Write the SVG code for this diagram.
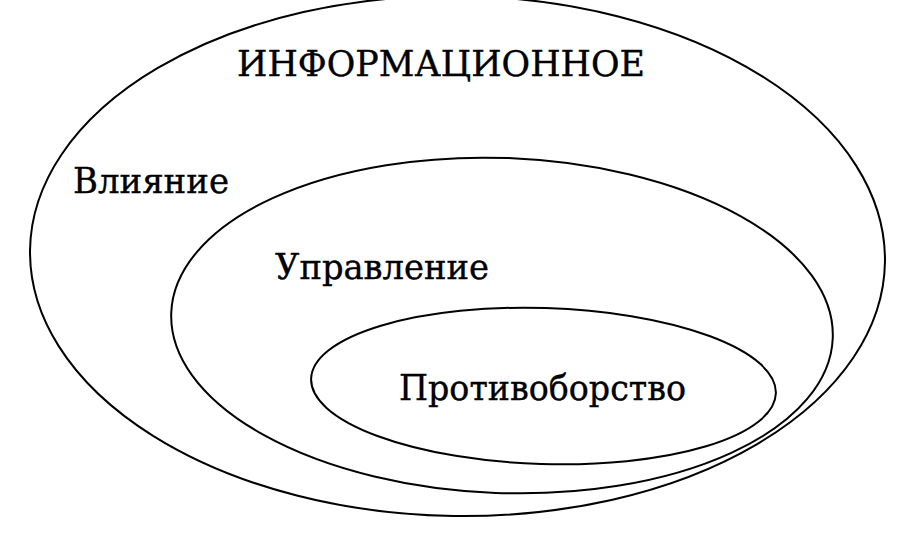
<svg xmlns="http://www.w3.org/2000/svg" width="909" height="548" viewBox="0 0 909 548">
<style>
.e{fill:none;stroke:#000;stroke-width:2}
.t{font-family:"DejaVu Serif","Liberation Serif",serif;font-size:36px;fill:#000;stroke:#000;stroke-width:0.4}
</style>
<rect width="909" height="548" fill="#fff"/>
<g id="outer">
<ellipse class="e" cx="457.5" cy="256" rx="427.5" ry="260" transform="rotate(0.8 457.5 256)"/>
<text class="t" x="237" y="76" textLength="408" lengthAdjust="spacingAndGlyphs">ИНФОРМАЦИОННОЕ</text>
<text class="t" x="73" y="193" textLength="156" lengthAdjust="spacingAndGlyphs">Влияние</text>
</g>
<g id="middle">
<ellipse class="e" cx="502" cy="325.5" rx="331" ry="167.5" transform="rotate(2.2 502 325.5)"/>
<text class="t" x="275" y="279" textLength="214" lengthAdjust="spacingAndGlyphs">Управление</text>
</g>
<g id="inner">
<ellipse class="e" cx="543.5" cy="386" rx="232.5" ry="78" transform="rotate(1.8 543.5 386)"/>
<text class="t" x="399" y="400" textLength="287" lengthAdjust="spacingAndGlyphs">Противоборство</text>
</g>
<g id="connectors"/>
</svg>
